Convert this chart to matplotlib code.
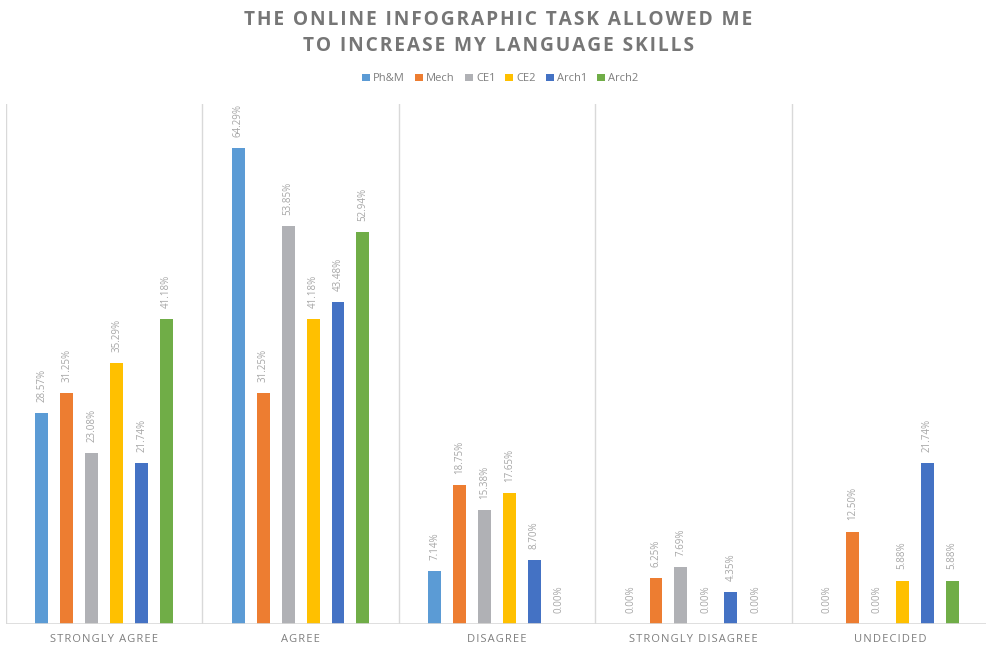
import numpy as np
import matplotlib.pyplot as plt

categories = ["STRONGLY AGREE", "AGREE", "DISAGREE", "STRONGLY DISAGREE", "UNDECIDED"]
groups = ["Ph&M", "Mech", "CE1", "CE2", "Arch1", "Arch2"]
values = {
    "Ph&M":  [28.57, 64.29, 7.14, 0.00, 0.00],
    "Mech":  [31.25, 31.25, 18.75, 6.25, 12.50],
    "CE1":   [23.08, 53.85, 15.38, 7.69, 0.00],
    "CE2":   [35.29, 41.18, 17.65, 0.00, 5.88],
    "Arch1": [21.74, 43.48, 8.70, 4.35, 21.74],
    "Arch2": [41.18, 52.94, 0.00, 0.00, 5.88],
}
colors = ["#5B9BD5", "#ED7D31", "#B0B1B5", "#FFC000", "#4472C4", "#70AD47"]
title = "THE ONLINE INFOGRAPHIC TASK ALLOWED ME\nTO INCREASE MY LANGUAGE SKILLS"

plt.rcParams['font.family'] = ['Open Sans', 'DejaVu Sans']


def spaced(s, sep="\u200a"):
    # fake letter spacing
    return "\n".join(sep.join(line) for line in s.split("\n"))


fig = plt.figure(figsize=(9.87, 6.47), dpi=100)
ax = fig.add_axes([6 / 987, 23 / 647, 982 / 987, 520 / 647])

x = np.arange(len(categories))
step = 0.127
width = 0.066
for i, g in enumerate(groups):
    pos = x + (i - 2.5) * step
    ax.bar(pos, values[g], width, color=colors[i], label=g, zorder=3)
    for px, v in zip(pos, values[g]):
        ax.annotate(f"{v:.2f}%", (px, v), xytext=(0, 8), textcoords="offset points",
                    rotation=90, ha="center", va="bottom", fontsize=7, color="#A6A6A6")

ax.set_xlim(-0.5, 4.5)
ax.set_ylim(0, 70.3)
for b in np.arange(-0.5, 5, 1):
    ax.axvline(b, color="#D9D9D9", lw=1, zorder=1)
ax.axhline(0, color="#D9D9D9", lw=1.2, zorder=4)
for s in ax.spines.values():
    s.set_visible(False)
ax.set_yticks([])
ax.set_xticks(x)
ax.set_xticklabels([spaced(c) for c in categories], fontsize=8, color="#7F7F7F")
ax.tick_params(axis="x", length=0, pad=7)

fig.text(0.505, 0.985, spaced(title), ha="center", va="top", fontsize=13.8,
         fontweight="bold", color="#767676", linespacing=1.45)
fig.legend(loc="center", bbox_to_anchor=(0.507, 0.878), ncol=6, frameon=False,
           fontsize=8, labelcolor="#7F7F7F", handlelength=0.7, handleheight=0.7,
           handletextpad=0.3, columnspacing=0.9)

fig.savefig("out.png", dpi=100)
